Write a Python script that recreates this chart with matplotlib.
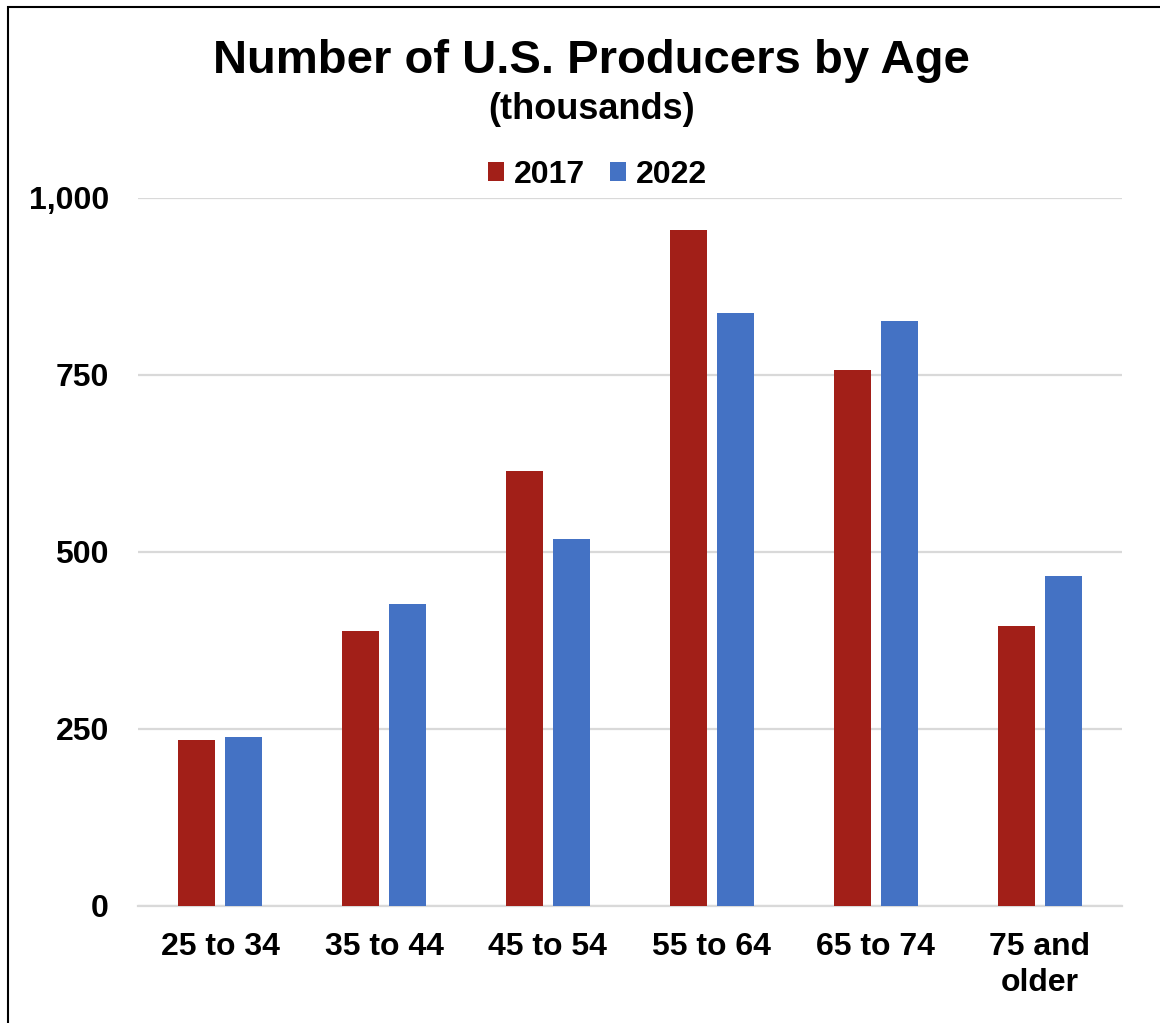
import numpy as np
import matplotlib.pyplot as plt
from matplotlib.patches import Rectangle

# producers by age group, thousands
age_groups = ["25 to 34", "35 to 44", "45 to 54", "55 to 64", "65 to 74", "75 and\nolder"]
producers_2017 = [234, 389, 614, 955, 757, 395]
producers_2022 = [239, 426, 518, 837, 826, 466]
years = ["2017", "2022"]

RED = "#A21F18"
BLUE = "#4472C4"
GRID = "#D9D9D9"

plt.rcParams["font.family"] = ["Liberation Sans", "DejaVu Sans"]
plt.rcParams["font.weight"] = "bold"

fig = plt.figure(figsize=(11.6, 10.23), dpi=100)
ax = fig.add_axes([0.119, 0.1144, 0.848, 0.6921])

x = np.arange(len(age_groups))
w = 0.226
off = 0.143
ax.bar(x - off, producers_2017, width=w, color=RED, label=years[0], zorder=3)
ax.bar(x + off, producers_2022, width=w, color=BLUE, label=years[1], zorder=3)

ax.set_xlim(-0.5, len(age_groups) - 0.5)
ax.set_ylim(0, 1000)
ax.set_yticks([0, 250, 500, 750, 1000])
ax.set_yticklabels(["0", "250", "500", "750", "1,000"])
ax.set_xticks(x)
ax.set_xticklabels(age_groups, linespacing=1.25)

ax.tick_params(axis="both", length=0, labelsize=23)
ax.tick_params(axis="y", pad=21)
ax.tick_params(axis="x", pad=19)
for lbl in ax.get_xticklabels() + ax.get_yticklabels():
    lbl.set_fontweight("bold")

ax.grid(axis="y", color=GRID, linewidth=1.6, zorder=0)
for side in ["top", "right", "left"]:
    ax.spines[side].set_visible(False)
ax.spines["bottom"].set_color(GRID)
ax.spines["bottom"].set_linewidth(1.6)

fig.text(0.510, 0.940, "Number of U.S. Producers by Age", ha="center", va="center",
         fontsize=34, fontweight="bold")
fig.text(0.510, 0.893, "(thousands)", ha="center", va="center",
         fontsize=26, fontweight="bold")

leg = fig.legend(loc="center", bbox_to_anchor=(0.515, 0.829), ncol=2, frameon=False,
                 fontsize=23, handlelength=0.5, handleheight=0.5,
                 handletextpad=0.3, columnspacing=0.8)
for t in leg.get_texts():
    t.set_fontweight("bold")

# outer frame, left and top edges visible
fig.patches.append(Rectangle((8 / 1160, -0.1), 1.2, 1.0 - 7 / 1023 + 0.1,
                             transform=fig.transFigure, fill=False,
                             edgecolor="black", linewidth=1.5))

fig.savefig("out.png", dpi=100)
